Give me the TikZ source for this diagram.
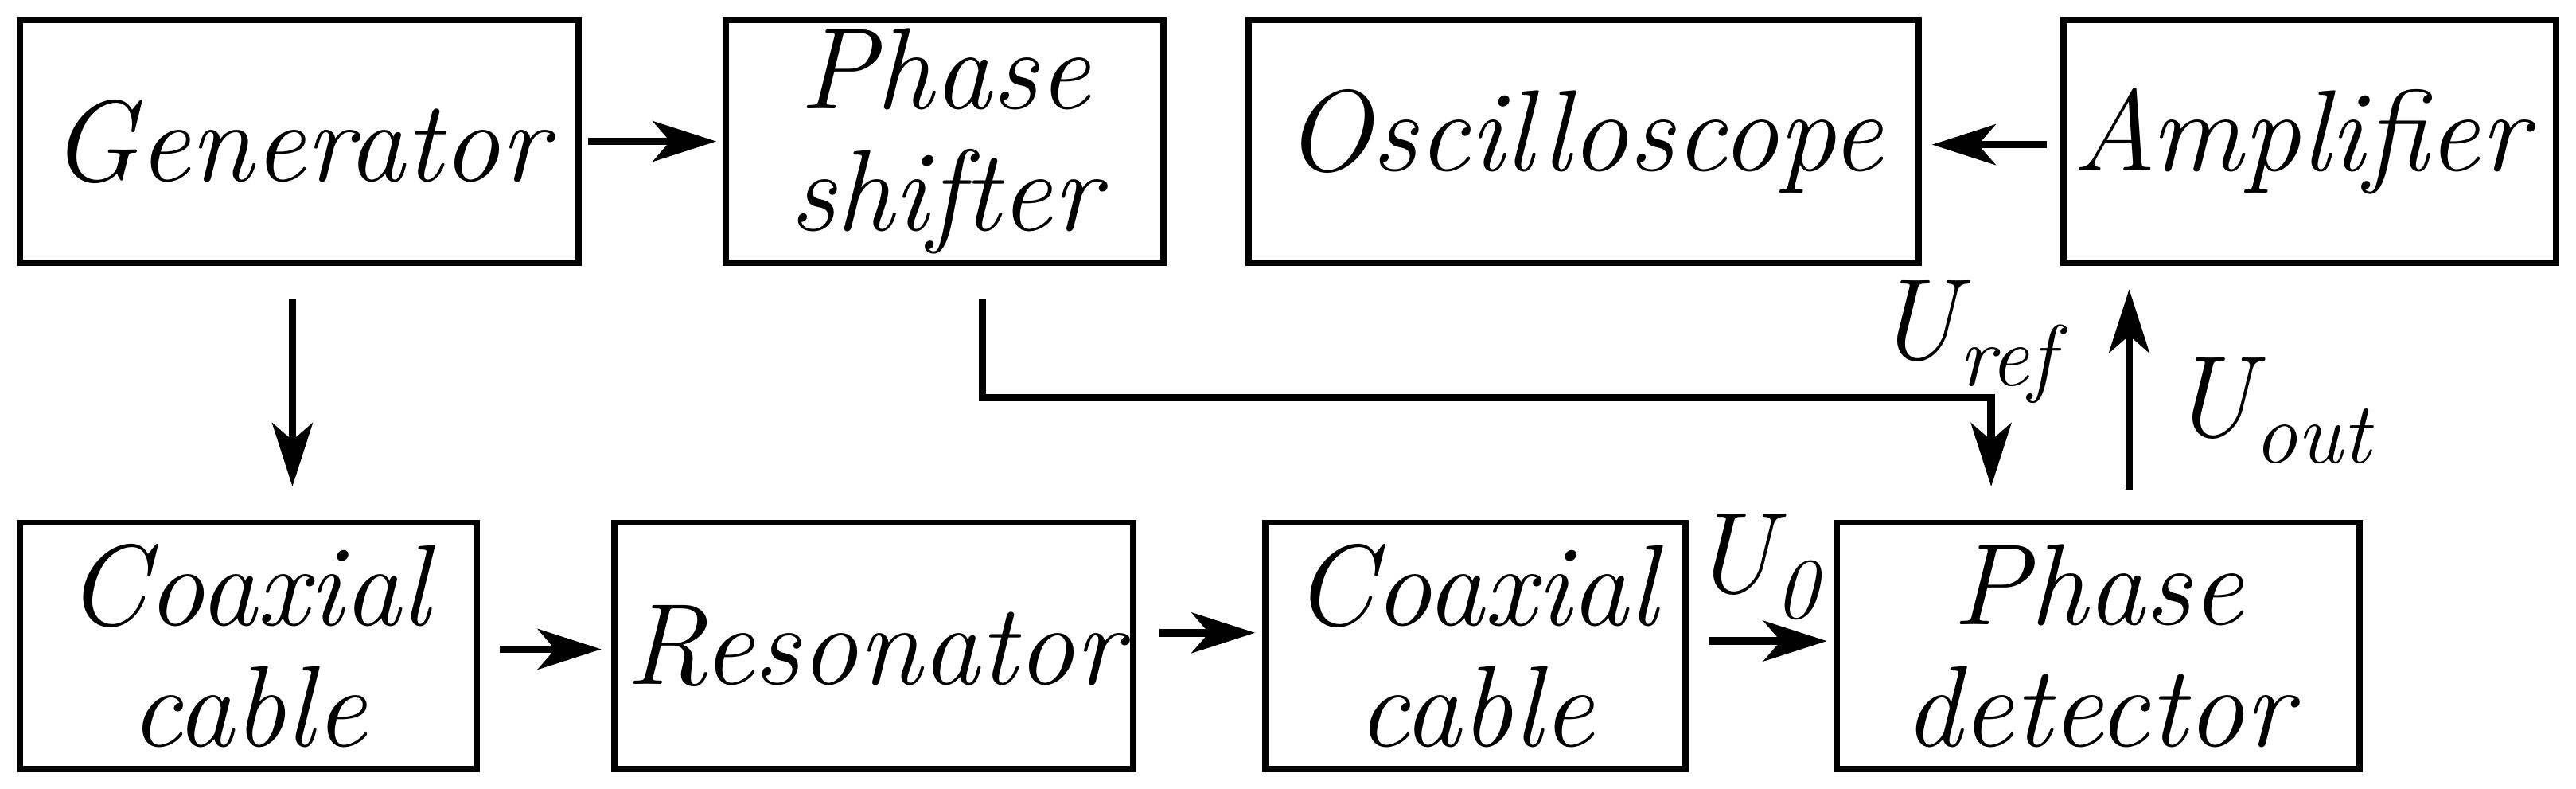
\documentclass[tikz,border=0pt]{standalone}
\usetikzlibrary{arrows.meta}
\newcommand{\sbx}[1]{\raisebox{-9pt}{\fontsize{30}{30}\selectfont #1}}
\begin{document}
\begin{tikzpicture}[x=0.02cm,y=-0.02cm,
  box/.style={draw,line width=2.2pt,inner sep=0pt},
  lbl/.style={font=\fontsize{40}{42}\selectfont\itshape,align=center},
  arr/.style={line width=2.6pt,-{Stealth[length=22pt,width=14pt,inset=6pt]}}]
\useasboundingbox (0,0) rectangle (1568,480);
\draw[box] (12,12) rectangle (352,160); \node[lbl] (gen) at (182,86) {Generator};
\draw[box] (442,12) rectangle (708,160); \node[lbl] (ps) at (575,86) {Phase\\shifter};
\draw[box] (760,12) rectangle (1168,160); \node[lbl] (osc) at (964,86) {Oscilloscope};
\draw[box] (1256,12) rectangle (1556,160); \node[lbl] (amp) at (1400,86) {Amplifier};
\draw[box] (12,318) rectangle (290,468); \node[lbl] (c1) at (151,393) {Coaxial\\cable};
\draw[box] (374,318) rectangle (690,468); \node[lbl] (res) at (532,393) {Resonator};
\draw[box] (770,318) rectangle (1026,468); \node[lbl] (c2) at (898,393) {Coaxial\\cable};
\draw[box] (1118,318) rectangle (1436,468); \node[lbl] (pd) at (1277,393) {Phase\\detector};
\coordinate (a1) at (358,86); \coordinate (a2) at (436,86);
\draw[arr] (a1) -- (a2);
\coordinate (b1) at (178,182); \coordinate (b2) at (178,296);
\draw[arr] (b1) -- (b2);
\coordinate (c1a) at (304,395); \coordinate (c1b) at (366,395);
\draw[arr] (c1a) -- (c1b);
\coordinate (d1) at (706,385); \coordinate (d2) at (764,385);
\draw[arr] (d1) -- (d2);
\coordinate (e1) at (1040,390); \coordinate (e2) at (1112,390);
\draw[arr] (e1) -- (e2);
\node[lbl] (u0) at (1068,345) {U\sbx{0}};
\coordinate (f1) at (598,182); \coordinate (f2) at (1212,296);
\draw[arr] (f1) |- (1212,242) -- (f2);
\node[lbl] (uref) at (1196,208) {U\sbx{ref}};
\coordinate (g1) at (1296,298); \coordinate (g2) at (1296,176);
\draw[arr] (g1) -- (g2);
\node[lbl] (uout) at (1382,250) {U\sbx{out}};
\coordinate (h1) at (1246,88); \coordinate (h2) at (1176,88);
\draw[arr] (h1) -- (h2);
\end{tikzpicture}
\end{document}
